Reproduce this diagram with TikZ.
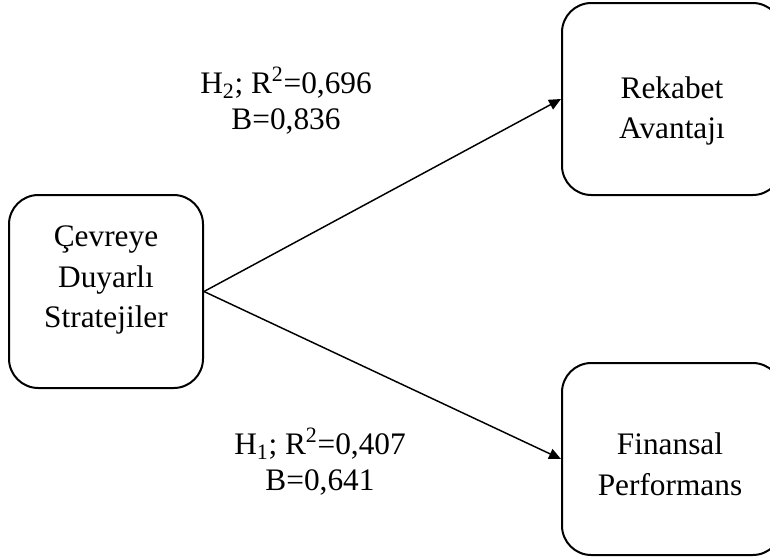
\documentclass[tikz,border=0pt]{standalone}
\usepackage{fontspec}
\setmainfont{Liberation Serif}
\usetikzlibrary{arrows.meta}

\tikzset{
	box/.style={draw, line width=1.5pt, rounded corners=22pt, inner sep=0pt},
	boxtext/.style={align=center, font=\fontsize{23.5}{30.5}\selectfont},
	coef/.style={align=center, font=\fontsize{23.5}{27}\selectfont},
	link/.style={line width=1.1pt, -{Triangle[length=9pt,width=8pt]}}
}

\begin{document}
\begin{tikzpicture}[x=0.75pt,y=-0.75pt]
	\useasboundingbox (0,0) rectangle (770,557) ;
	\clip (0,0) rectangle (770,557) ;
	\node [box, minimum width=145.5pt, minimum height=144.75pt] (cevre) at (106,291.5) {} ;
	\node [box, minimum width=165pt, minimum height=144pt] (rekabet) at (672,99) {} ;
	\node [box, minimum width=165pt, minimum height=144pt] (finans) at (672,459) {} ;
	\node [boxtext] (cevretext) at (106,280) {Çevreye\\Duyarlı\\Stratejiler} ;
	\node [boxtext] (rekabettext) at (672,111) {Rekabet\\Avantajı} ;
	\node [boxtext] (finanstext) at (670,464) {Finansal\\Performans} ;
	\node [coef] (htwo) at (286,100.5) {H\textsubscript{2}; R\textsuperscript{2}=0,696\\B=0,836} ;
	\node [coef] (hone) at (320,462) {H\textsubscript{1}; R\textsuperscript{2}=0,407\\B=0,641} ;
	\draw [link] (cevre.east) -- (rekabet.west) ;
	\draw [link] (cevre.east) -- (finans.west) ;
\end{tikzpicture}
\end{document}
